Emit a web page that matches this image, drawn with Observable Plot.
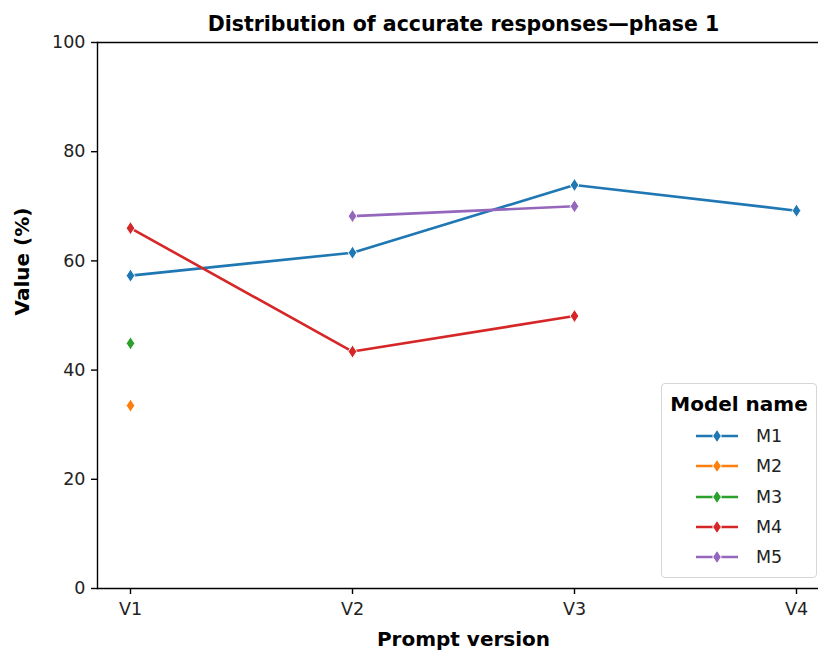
<!DOCTYPE html>
<html>
<head>
<meta charset="utf-8">
<script src="https://cdn.jsdelivr.net/npm/d3@7"></script>
<script src="https://cdn.jsdelivr.net/npm/@observablehq/plot@0.6"></script>
<style>
  html, body { margin: 0; padding: 0; background: #fff; overflow: hidden; }
  #wrap { position: relative; width: 818px; height: 653px; font-family: "DejaVu Sans", sans-serif; }
  #legend { position: absolute; left: 661px; top: 383px; width: 154px; height: 193px;
    border: 1px solid #d6d6d6; border-radius: 4px; background: rgba(255,255,255,0.85); box-sizing: content-box; }
  #legend .title { position: absolute; left: 0; width: 100%; top: 8px; text-align: center; font-weight: bold; font-size: 20px; color: #000; }
  #legend .item { position: absolute; left: 33px; height: 20px; display: flex; align-items: center; font-size: 17.5px; color: #222; }
  #legend .item svg { margin-right: 17px; }
</style>
</head>
<body>
<div id="wrap"></div>
<script>
const versions = ["V1", "V2", "V3", "V4"];
const models = ["M1", "M2", "M3", "M4", "M5"];
const colors = ["#1f77b4", "#ff7f0e", "#2ca02c", "#d62728", "#9467bd"];
const m1 = [57.3, 61.5, 73.9, 69.2];
const m2 = [33.5, null, null, null];
const m3 = [44.9, null, null, null];
const m4 = [66.0, 43.4, 49.9, null];
const m5 = [null, 68.2, 70.0, null];
const yTicks = [0, 20, 40, 60, 80, 100];
const title = "Distribution of accurate responses—phase 1";
const xLabel = "Prompt version";
const yLabel = "Value (%)";
const legendTitle = "Model name";

const series = [m1, m2, m3, m4, m5];
const rows = [];
series.forEach((vals, i) => vals.forEach((v, j) => {
  if (v != null) rows.push({model: models[i], version: versions[j], value: v});
}));

const thinDiamond = {
  draw(context, size) {
    const r = Math.sqrt(size / Math.PI);
    const w = r * 0.66;
    context.moveTo(0, -r);
    context.lineTo(w, 0);
    context.lineTo(0, r);
    context.lineTo(-w, 0);
    context.closePath();
  }
};

const plot = Plot.plot({
  width: 818,
  height: 653,
  marginLeft: 97,
  marginRight: 0,
  marginTop: 42,
  marginBottom: 65,
  style: { fontFamily: "DejaVu Sans, sans-serif", fontSize: "17.5px", color: "#222", background: "#fff" },
  x: { type: "point", domain: versions, range: [130, 796], padding: 0 },
  y: { domain: [0, 100], range: [588, 42] },
  color: { domain: models, range: colors },
  marks: [
    Plot.axisX({ ticks: versions, tickSize: 6, tickPadding: 8, label: null, strokeWidth: 1.4, stroke: "#000" }),
    Plot.axisY({ ticks: yTicks, tickSize: 6, tickPadding: 6, label: null, strokeWidth: 1.4, stroke: "#000" }),
    Plot.ruleY([0, 100], { stroke: "#000", strokeWidth: 1.4 }),
    Plot.frame({ anchor: "left", stroke: "#000", strokeWidth: 1.4 }),
    Plot.line(rows, { x: "version", y: "value", stroke: "model", z: "model", strokeWidth: 2.6 }),
    Plot.dot(rows, { x: "version", y: "value", fill: "model", symbol: thinDiamond, r: 6.6, stroke: "#fff", strokeWidth: 1 }),
    Plot.text([title], { frameAnchor: "top", dx: 5.5, dy: -26, fontWeight: "bold", fontSize: 20.5, fill: "#000" }),
    Plot.text([xLabel], { frameAnchor: "bottom", dx: 5.5, dy: 57, fontWeight: "bold", fontSize: 20, fill: "#000" }),
    Plot.text([yLabel], { frameAnchor: "left", rotate: -90, dx: -75, fontWeight: "bold", fontSize: 20, fill: "#000" })
  ]
});
document.getElementById("wrap").appendChild(plot);

// Legend
const leg = document.createElement("div");
leg.id = "legend";
const t = document.createElement("div");
t.className = "title";
t.textContent = legendTitle;
leg.appendChild(t);
models.forEach((m, i) => {
  const item = document.createElement("div");
  item.className = "item";
  item.style.top = (42 + i * 30.3) + "px";
  const svg = d3.create("svg").attr("width", 44).attr("height", 20);
  svg.append("line").attr("x1", 1).attr("x2", 43).attr("y1", 10).attr("y2", 10)
    .attr("stroke", colors[i]).attr("stroke-width", 2.6);
  const r = 6.6, w = r * 0.66;
  svg.append("path").attr("d", `M22,${10 - r}L${22 + w},10L22,${10 + r}L${22 - w},10Z`)
    .attr("fill", colors[i]).attr("stroke", "#fff").attr("stroke-width", 1);
  item.appendChild(svg.node());
  const s = document.createElement("span");
  s.textContent = m;
  item.appendChild(s);
  leg.appendChild(item);
});
document.getElementById("wrap").appendChild(leg);
</script>
</body>
</html>
